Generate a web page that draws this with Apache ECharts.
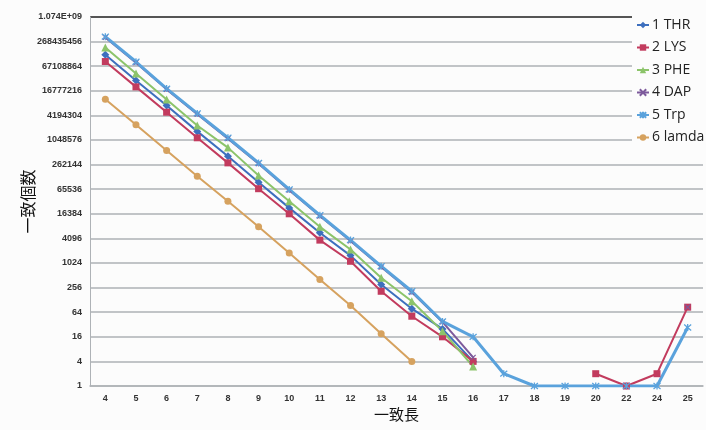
<!DOCTYPE html>
<html>
<head>
<meta charset="utf-8">
<script src="https://cdn.jsdelivr.net/npm/echarts@6/dist/echarts.min.js"></script>
<style>
html,body{margin:0;padding:0;background:#fff;}
#c{width:706px;height:430px;}
</style>
</head>
<body>
<div id="c"></div>
<script>
// Data
var categories = ['4','5','6','7','8','9','10','11','12','13','14','15','16','17','18','19','20','22','24','25'];
var seriesNames = ['1 THR','2 LYS','3 PHE','4 DAP','5 Trp','6 lamda'];
var THR   = [128700000, 30010000, 7302000, 1704000, 419900, 96600, 22860, 5632, 1552, 306, 78, 25, 4, null, null, null, null, null, null, null];
var LYS   = [87310000, 20940000, 5021000, 1188000, 288900, 67370, 16384, 3717, 1128, 208, 51, 16, 4, null, null, null, 2, 1, 2, 85];
var PHE   = [192400000, 44280000, 10330000, 2376000, 682400, 142400, 33230, 7856, 2195, 446, 119, 22, 3, null, null, null, null, null, null, null];
var DAP   = [340000000, 82000000, 18200000, 4500000, 1130000, 276000, 62000, 14400, 3550, 815, 196, 37, 5, null, null, null, null, null, null, 85];
var TRP   = [354200000, 86130000, 19010000, 4686000, 1188000, 288900, 64630, 15080, 3717, 855, 208, 38, 16, 2, 1, 1, 1, 1, 1, 27];
var LAMDA = [10470000, 2476000, 577600, 136600, 33230, 7856, 1807, 404, 93, 19, 4, null, null, null, null, null, null, null, null, null];
var yMin = 1, yMax = 1073741824;

var colors = ['#3d6fbe', '#c23b5e', '#8cc46a', '#7d5a9c', '#5aa2dc', '#d6a25f'];
var X_PATH = 'path://M0,0L10,10M10,0L0,10';
var STAR_PATH = 'path://M0,0L10,10M10,0L0,10M5,-1L5,11';

var gridColors = [];
for (var i = 0; i < 15; i++) gridColors.push('#aeb2b6');
gridColors.push('#1e1e1e');

function mk(name, data, color, symbol, size, width, extra) {
  var s = {
    name: name, type: 'line', data: data, symbol: symbol, symbolSize: size,
    connectNulls: false, showSymbol: true,
    lineStyle: { color: color, width: width },
    itemStyle: { color: color },
    emphasis: { disabled: true }
  };
  if (extra) for (var k in extra) s[k] = extra[k];
  return s;
}

var chart = echarts.init(document.getElementById('c'), null, { renderer: 'canvas' });
chart.setOption({
  animation: false,
  backgroundColor: '#fcfcfc',
  color: colors,
  grid: { left: 90, right: 3, top: 17, bottom: 44 },
  legend: {
    orient: 'vertical', left: 632, top: 12,
    backgroundColor: '#fcfcfc',
    padding: [6, 4, 14, 4],
    itemWidth: 12, itemHeight: 8, itemGap: 8.5,
    textStyle: { fontFamily: 'Open Sans', fontSize: 14, color: '#222', padding: [0, 0, 0, -2] },
    data: seriesNames
  },
  xAxis: {
    type: 'category', data: categories, boundaryGap: true,
    name: '一致長', nameLocation: 'middle', nameGap: 21, nameMoveOverlap: false,
    nameTextStyle: { fontFamily: 'Noto Sans CJK JP', fontSize: 15, color: '#111' },
    axisLine: { lineStyle: { color: '#aeb2b6', width: 1.5 } },
    axisTick: { show: false },
    axisLabel: { fontFamily: 'Liberation Sans', fontWeight: 'bold', fontSize: 9, color: '#333', margin: 8 },
    splitLine: { show: false }
  },
  yAxis: {
    type: 'log', logBase: 4, min: yMin, max: yMax, interval: 1,
    name: '一致個数', nameLocation: 'middle', nameRotate: 90, nameGap: 54, nameMoveOverlap: false,
    nameTextStyle: { fontFamily: 'Noto Sans CJK JP', fontSize: 16, color: '#111' },
    axisLine: { show: true, lineStyle: { color: '#aeb2b6', width: 1 } },
    axisTick: { show: false },
    axisLabel: {
      fontFamily: 'Liberation Sans', fontWeight: 'bold', fontSize: 9, color: '#333', margin: 8,
      formatter: function (v) {
        var r = Math.round(v);
        if (r >= 1e9) return '1.074E+09';
        return String(r);
      }
    },
    splitLine: { show: true, lineStyle: { color: gridColors, width: 1.5 } }
  },
  series: [
    mk(seriesNames[0], THR, colors[0], 'diamond', 8, 2),
    mk(seriesNames[1], LYS, colors[1], 'rect', 7, 2),
    mk(seriesNames[2], PHE, colors[2], 'triangle', 8, 2),
    mk(seriesNames[3], DAP, colors[3], X_PATH, 5, 2, { itemStyle: { color: colors[3], borderColor: colors[3], borderWidth: 1.2 } }),
    mk(seriesNames[4], TRP, colors[4], STAR_PATH, 7, 3, { itemStyle: { color: colors[4], borderColor: colors[4], borderWidth: 1.3 } }),
    mk(seriesNames[5], LAMDA, colors[5], 'circle', 7, 2)
  ]
});
</script>
</body>
</html>
